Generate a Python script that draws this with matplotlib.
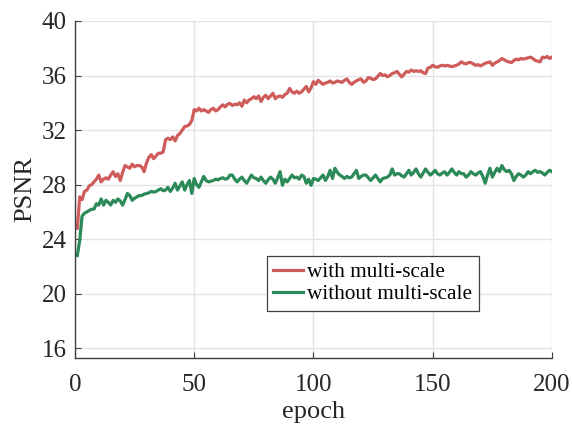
# PSNR vs epoch, with / without multi-scale
import matplotlib
matplotlib.use('Agg')
import matplotlib.pyplot as plt
import numpy as np

epochs = np.arange(1, 201)

# PSNR with multi-scale (one value per epoch)
psnr_multi = [
    24.8, 27.1, 26.9, 27.5, 27.6, 27.9, 28.0, 28.2, 28.4, 28.7,
    28.2, 28.4, 28.5, 28.4, 28.7, 28.95, 28.6, 28.8, 28.3, 28.9,
    29.4, 29.3, 29.2, 29.5, 29.3, 29.4, 29.4, 29.3, 28.95, 29.6,
    30.0, 30.2, 29.9, 30.1, 30.3, 30.3, 30.4, 31.3, 31.4, 31.3,
    31.5, 31.2, 31.6, 31.75, 32.0, 32.25, 32.3, 32.4, 32.7, 33.5,
    33.4, 33.6, 33.4, 33.5, 33.4, 33.3, 33.5, 33.6, 33.4, 33.5,
    33.7, 33.85, 33.7, 33.9, 33.95, 33.8, 33.9, 33.85, 34.0, 33.75,
    34.2, 34.0, 34.2, 34.3, 34.45, 34.3, 34.5, 34.1, 34.4, 34.55,
    34.3, 34.5, 34.7, 34.3, 34.45, 34.5, 34.4, 34.6, 34.7, 35.05,
    34.8, 34.7, 34.85, 34.7, 34.8, 35.0, 35.2, 34.8, 35.1, 35.55,
    35.35, 35.65, 35.5, 35.35, 35.45, 35.5, 35.6, 35.45, 35.5, 35.6,
    35.55, 35.5, 35.65, 35.75, 35.5, 35.35, 35.5, 35.6, 35.7, 35.75,
    35.5, 35.6, 35.85, 35.8, 35.7, 35.75, 35.95, 36.15, 36.0, 36.05,
    35.9, 36.0, 36.15, 36.2, 36.3, 36.1, 35.9, 36.1, 36.3, 36.25,
    36.4, 36.3, 36.35, 36.3, 36.35, 36.2, 36.15, 36.55, 36.6, 36.75,
    36.65, 36.6, 36.7, 36.75, 36.7, 36.75, 36.7, 36.65, 36.7, 36.75,
    36.85, 37.0, 36.9, 36.85, 36.95, 36.95, 36.85, 36.75, 36.8, 36.7,
    36.8, 36.9, 36.95, 37.0, 36.75, 36.9, 37.0, 37.1, 37.25, 37.15,
    37.05, 37.0, 36.95, 37.1, 37.2, 37.15, 37.25, 37.2, 37.25, 37.3,
    37.35, 37.25, 37.1, 37.05, 37.0, 37.35, 37.3, 37.4, 37.25, 37.35,
]

# PSNR without multi-scale
psnr_single = [
    22.8, 23.9, 25.7, 25.9, 26.0, 26.1, 26.2, 26.2, 26.6, 26.5,
    26.95, 26.5, 26.85, 26.7, 26.5, 26.85, 26.7, 26.95, 26.8, 26.5,
    26.9, 27.35, 27.2, 26.85, 27.0, 27.1, 27.2, 27.2, 27.3, 27.35,
    27.4, 27.5, 27.45, 27.5, 27.6, 27.7, 27.55, 27.6, 27.8, 27.5,
    27.75, 28.1, 27.6, 27.9, 28.2, 27.6, 28.0, 28.3, 27.35, 28.45,
    28.0, 27.8, 28.2, 28.6, 28.3, 28.2, 28.25, 28.3, 28.4, 28.35,
    28.45, 28.5, 28.4, 28.45, 28.7, 28.7, 28.4, 28.2, 28.4, 28.55,
    28.3, 28.1, 28.4, 28.7, 28.5, 28.45, 28.3, 28.55, 28.3, 28.1,
    28.35, 28.55, 28.4, 28.1, 28.5, 28.95, 27.95, 28.4, 28.2, 28.45,
    28.7, 28.5, 28.55, 28.4, 28.7, 28.6, 28.1, 28.4, 27.95, 28.45,
    28.4, 28.3, 28.5, 28.7, 28.3, 28.6, 29.05, 28.45, 29.2, 28.9,
    28.7, 28.6, 28.45, 28.6, 28.5, 28.55, 28.8, 29.05, 28.45, 28.6,
    28.7, 28.7, 28.5, 28.3, 28.5, 28.7, 28.45, 28.2, 28.45, 28.5,
    28.55, 28.7, 29.15, 28.7, 28.8, 28.8, 28.65, 28.55, 28.8, 29.05,
    28.7, 28.9, 29.15, 28.8, 28.55, 28.85, 29.15, 28.9, 28.7, 28.85,
    29.05, 28.8, 28.7, 28.85, 28.95, 28.7, 28.9, 29.15, 28.9, 28.7,
    28.95, 28.8, 28.8, 28.55, 28.7, 28.95, 28.8, 28.7, 28.85, 28.95,
    28.6, 28.1, 28.7, 29.2, 28.55, 28.9, 29.2, 28.95, 29.4, 29.1,
    28.95, 29.05, 28.8, 28.3, 28.6, 28.8, 28.7, 28.55, 28.7, 28.95,
    28.8, 28.95, 29.05, 28.9, 28.95, 28.85, 28.7, 28.9, 29.05, 28.95,
]

x_ticks = [0, 50, 100, 150, 200]
y_ticks = [16, 20, 24, 28, 32, 36, 40]

plt.rcParams['font.family'] = ['Liberation Serif', 'DejaVu Serif']

fig = plt.figure(figsize=(5.72, 4.28), dpi=100)
ax = fig.add_axes([0.131, 0.164, 0.834, 0.787])

ax.plot(epochs, psnr_multi, color='#CF5B5B', linewidth=2.3, label='with multi-scale')
ax.plot(epochs, psnr_single, color='#2B8A57', linewidth=2.3, label='without multi-scale')

ax.set_xlim(0, 200)
ax.set_ylim(15.3, 40)
ax.set_xticks(x_ticks)
ax.set_yticks(y_ticks)

ax.grid(True, color='#e3e3e3', linewidth=1.0)
ax.set_axisbelow(True)

for s in ['top', 'right']:
    ax.spines[s].set_visible(False)
for s in ['left', 'bottom']:
    ax.spines[s].set_color('#404040')
    ax.spines[s].set_linewidth(1.0)

ax.tick_params(direction='in', length=4, width=0.8, color='#404040',
               labelsize=18, labelcolor='#262626')
ax.tick_params(axis='x', pad=12)
ax.tick_params(axis='y', pad=6)

ax.set_xlabel('epoch', fontsize=19, color='#262626', labelpad=3)
ax.set_ylabel('PSNR', fontsize=19, color='#262626', labelpad=4)

leg = ax.legend(loc='lower left', bbox_to_anchor=(0.4025, 0.1396), borderaxespad=0,
                fontsize=15.3, frameon=True, fancybox=False, framealpha=1,
                edgecolor='#404040', handlelength=1.4, handletextpad=0.2,
                labelspacing=0.1, borderpad=0.3)
leg.get_frame().set_linewidth(0.9)

fig.savefig('out.png', dpi=100)
